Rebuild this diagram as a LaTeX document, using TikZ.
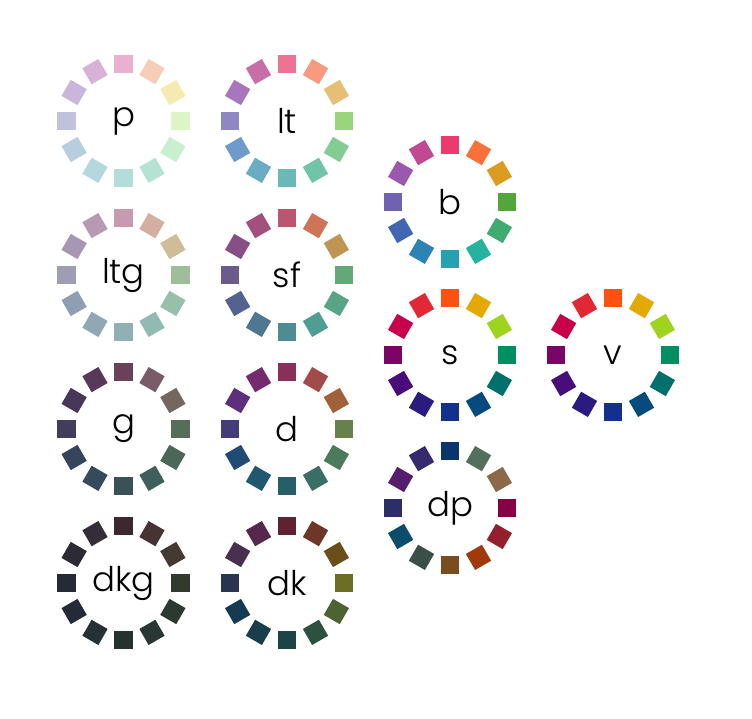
\documentclass[tikz,border=0pt]{standalone}
\usepackage{fontspec}
\setmainfont{Poppins}[UprightFont=* Light]
\usepackage{xcolor}
\usepackage{tikz}
\usetikzlibrary{positioning, calc}

\tikzset{
  swatch/.style={draw=none, minimum size=18.5pt, inner sep=0pt, outer sep=0pt},
  wheellabel/.style={inner sep=0pt, font=\fontsize{34}{38}\selectfont}
}

% one wheel: name, label, centre x, centre y, twelve colours from the top, clockwise
\newcommand{\colourwheel}[5]{
  \node[wheellabel] (#1) at (#3,#4) {#2};
  \foreach \hex [count=\i from 0] in {#5} {
    \edef\setsq{\noexpand\definecolor{sq}{HTML}{\hex}}\setsq
    \node[swatch, fill=sq, rotate=-30*\i] (#1-\i) at ($(#1)+(90-30*\i:57)$) {};
  }
}

\begin{document}
\begin{tikzpicture}[x=1pt, y=1pt]

\useasboundingbox (0,0) rectangle (752,718);

% Define wheels
\colourwheel{p}{p}{123.5}{597}{EAB0CF,F6CDB7,F4EBB0,DBF5C6,C8EFCE,B5E3D3,B3DDD8,B3D8DE,B7CEDF,C0C1DC,C9B6DA,D7B1D6}
\colourwheel{lt}{lt}{287}{597}{EE7295,F79A7F,E6BE75,9AD47C,83CD95,70C5A8,6AB9B6,6AACC4,6E9BCB,8C88C0,A876BA,C76EA9}
\colourwheel{b}{b}{450}{516}{EC3A6E,F97038,DC9C1F,55A63A,40AB71,25B39E,25A2B2,2E83B5,4267B2,7062B0,9B58AE,BF4A92}
\colourwheel{ltg}{ltg}{123.5}{443}{C69BB1,D4AE9E,CDBD98,9FBD9B,98BFAA,91BAB3,90B0B5,90A8B6,8E9FB3,9D9DB3,A797B2,B799B2}
\colourwheel{sf}{sf}{287}{443}{BC5570,CF7557,BF9553,61AA78,58A585,509E92,4F8B93,4E7791,546290,6B5A8C,884E88,A3507D}
\colourwheel{s}{s}{450}{363}{FE5211,E4A902,9ED41E,008F61,00706C,064A7E,13308C,2B1A80,480D7A,7A0566,C8004C,E32735}
\colourwheel{v}{v}{613}{363}{FE5211,E4A902,9ED41E,008F61,00706C,064A7E,13308C,2B1A80,480D7A,7A0566,C8004C,E32735}
\colourwheel{g}{g}{123.5}{289}{6A4159,7A5B68,73675E,566E57,4B6759,405E5B,3A5158,37495C,36455C,413D5A,49375A,58395A}
\colourwheel{d}{d}{287}{289}{89305A,A24C4A,A06038,67814A,4D7A5B,386E66,265F6A,20596F,214A75,423C7A,5E2F7C,752C6F}
\colourwheel{dp}{dp}{450}{210}{0A346E,546F5E,8A6A48,860043,941F2D,A03A0A,7A4C1E,394F47,0B4B6B,2C2E6A,561D6C,372A6E}
\colourwheel{dkg}{dkg}{123.5}{135}{3D2830,463434,443A31,303A2D,2B392F,293734,25332F,253136,222B37,262936,2C2A33,342C37}
\colourwheel{dk}{dk}{287}{135}{5E2233,6D3626,6A4F1A,6B6F25,4D6332,2C523F,1C4444,173E4A,163A52,2A3450,48304F,55284C}

\end{tikzpicture}
\end{document}
